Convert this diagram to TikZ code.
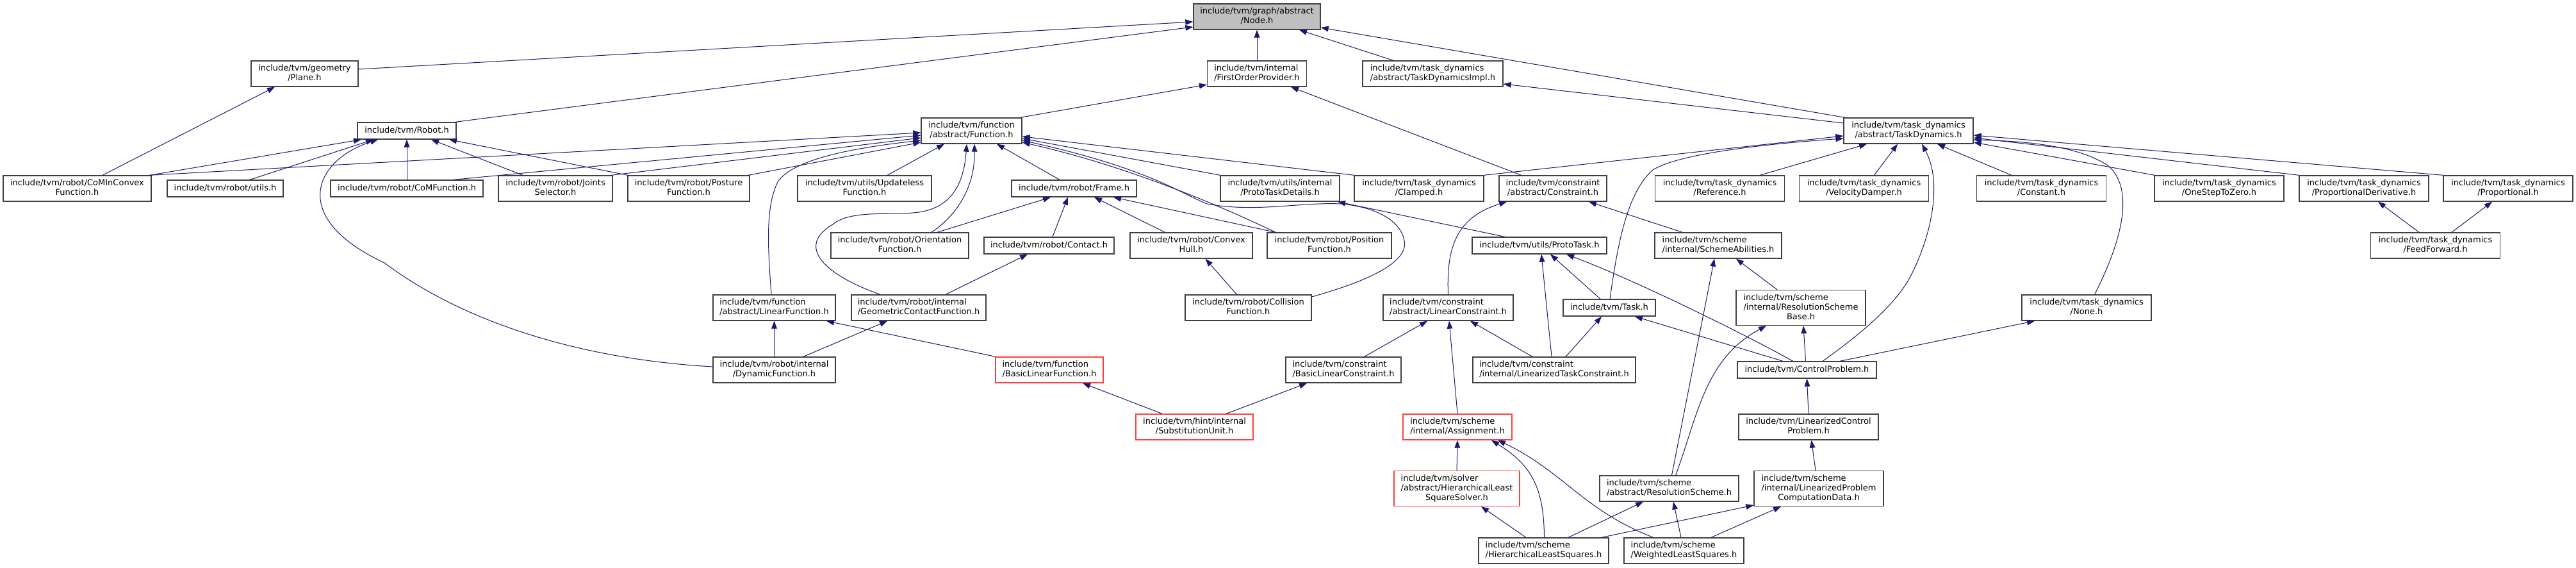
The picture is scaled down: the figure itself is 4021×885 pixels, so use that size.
\documentclass[tikz,border=0pt]{standalone}
\usepackage{fontspec}
\newfontfamily\dvs{DejaVu Sans}
\usetikzlibrary{arrows.meta,calc}
\definecolor{edgec}{HTML}{191970}
\definecolor{boxc}{HTML}{404040}
\definecolor{redc}{HTML}{FF4040}
\definecolor{graybg}{HTML}{BFBFBF}
\newcommand\twol[2]{\begin{tabular}{@{}l@{}}#1\\\multicolumn{1}{@{}c@{}}{#2}\end{tabular}}
\newcommand\threel[3]{\begin{tabular}{@{}l@{}}#1\\#2\\\multicolumn{1}{@{}c@{}}{#3}\end{tabular}}
\newcommand\onel[1]{\begin{tabular}{@{}c@{}}#1\end{tabular}}
\tikzset{
 nbox/.style={draw=boxc, line width=1pt, fill=white, rectangle, inner sep=0pt, minimum height=30pt, font=\dvs\fontsize{9.75}{11.25}\selectfont},
 rbox/.style={nbox, draw=redc},
 bw/.style={minimum width=#1*0.75pt},
 oneline/.style={minimum height=19.5pt},
 threeline/.style={minimum height=41.25pt},
 dep/.style={draw=edgec, line width=0.75pt, -{Triangle[length=9pt,width=6.5pt]}},
}
\begin{document}
\begin{tikzpicture}[x=0.75pt,y=-0.75pt]
\fill[white] (0,0) rectangle (4021,885);
\useasboundingbox (0,0) rectangle (4021,885);
% row 0
\node[nbox,bw=198,fill=graybg] (nodeh) at (1962,26) {\twol{include/tvm/graph/abstract}{/Node.h}};
% row 1
\node[nbox,bw=167] (plane) at (475.5,115) {\twol{include/tvm/geometry}{/Plane.h}};
\node[nbox,bw=155] (fop) at (1962,115) {\twol{include/tvm/internal}{/FirstOrderProvider.h}};
\node[nbox,bw=219] (tdimpl) at (2236.5,115) {\twol{include/tvm/task\_dynamics}{/abstract/TaskDynamicsImpl.h}};
% row 2
\node[nbox,oneline,bw=154] (robot) at (635,204) {\onel{include/tvm/Robot.h}};
\node[nbox,bw=157] (function) at (1516.5,204) {\twol{include/tvm/function}{/abstract/Function.h}};
\node[nbox,bw=202] (taskdyn) at (2979,204) {\twol{include/tvm/task\_dynamics}{/abstract/TaskDynamics.h}};
% row 3
\node[nbox,bw=231] (cominconvex) at (120.5,294) {\twol{include/tvm/robot/CoMInConvex}{Function.h}};
\node[nbox,oneline,bw=181] (rutils) at (351.5,294) {\onel{include/tvm/robot/utils.h}};
\node[nbox,oneline,bw=238] (comfunc) at (635,294) {\onel{include/tvm/robot/CoMFunction.h}};
\node[nbox,bw=178] (joints) at (867,294) {\twol{include/tvm/robot/Joints}{Selector.h}};
\node[nbox,bw=190] (posture) at (1075,294) {\twol{include/tvm/robot/Posture}{Function.h}};
\node[nbox,bw=209] (updateless) at (1349.5,294) {\twol{include/tvm/utils/Updateless}{Function.h}};
\node[nbox,oneline,bw=195] (frame) at (1676.5,294) {\onel{include/tvm/robot/Frame.h}};
\node[nbox,bw=186] (ptdetails) at (1998,294) {\twol{include/tvm/utils/internal}{/ProtoTaskDetails.h}};
\node[nbox,bw=202] (clamped) at (2215,294) {\twol{include/tvm/task\_dynamics}{/Clamped.h}};
\node[nbox,bw=168] (constraint) at (2424,294) {\twol{include/tvm/constraint}{/abstract/Constraint.h}};
\node[nbox,bw=202] (reference) at (2684.5,294) {\twol{include/tvm/task\_dynamics}{/Reference.h}};
\node[nbox,bw=202] (veldamper) at (2909.5,294) {\twol{include/tvm/task\_dynamics}{/VelocityDamper.h}};
\node[nbox,bw=202] (constant) at (3186.5,294) {\twol{include/tvm/task\_dynamics}{/Constant.h}};
\node[nbox,bw=202] (onestep) at (3464,294) {\twol{include/tvm/task\_dynamics}{/OneStepToZero.h}};
\node[nbox,bw=202] (pd) at (3690,294) {\twol{include/tvm/task\_dynamics}{/ProportionalDerivative.h}};
\node[nbox,bw=202] (prop) at (3915,294) {\twol{include/tvm/task\_dynamics}{/Proportional.h}};
% row 4
\node[nbox,bw=215] (orientation) at (1404.5,383) {\twol{include/tvm/robot/Orientation}{Function.h}};
\node[nbox,oneline,bw=203] (contact) at (1637.5,383) {\onel{include/tvm/robot/Contact.h}};
\node[nbox,bw=191] (convexhull) at (1859.5,383) {\twol{include/tvm/robot/Convex}{Hull.h}};
\node[nbox,bw=194] (position) at (2075,383) {\twol{include/tvm/robot/Position}{Function.h}};
\node[nbox,oneline,bw=210] (prototask) at (2403,383) {\onel{include/tvm/utils/ProtoTask.h}};
\node[nbox,bw=198] (schemeab) at (2682,383) {\twol{include/tvm/scheme}{/internal/SchemeAbilities.h}};
\node[nbox,bw=202] (feedforward) at (3801.5,383) {\twol{include/tvm/task\_dynamics}{/FeedForward.h}};
% row 5
\node[nbox,bw=191] (linfunc) at (1208.5,480) {\twol{include/tvm/function}{/abstract/LinearFunction.h}};
\node[nbox,bw=210] (gcf) at (1434,480) {\twol{include/tvm/robot/internal}{/GeometricContactFunction.h}};
\node[nbox,bw=197] (collision) at (1948.5,480) {\twol{include/tvm/robot/Collision}{Function.h}};
\node[nbox,bw=203] (linconstraint) at (2260.5,480) {\twol{include/tvm/constraint}{/abstract/LinearConstraint.h}};
\node[nbox,oneline,bw=144] (task) at (2512,480) {\onel{include/tvm/Task.h}};
\node[nbox,threeline,bw=202] (rsbase) at (2811,480) {\threel{include/tvm/scheme}{/internal/ResolutionScheme}{Base.h}};
\node[nbox,bw=202] (none) at (3257,480) {\twol{include/tvm/task\_dynamics}{/None.h}};
% row 6
\node[nbox,bw=191] (dynfunc) at (1208.5,577) {\twol{include/tvm/robot/internal}{/DynamicFunction.h}};
\node[rbox,bw=168] (basiclinfunc) at (1638,577) {\twol{include/tvm/function}{/BasicLinearFunction.h}};
\node[nbox,bw=180] (basiclincons) at (2097,577) {\twol{include/tvm/constraint}{/BasicLinearConstraint.h}};
\node[nbox,bw=254] (ltc) at (2426,577) {\twol{include/tvm/constraint}{/internal/LinearizedTaskConstraint.h}};
\node[nbox,oneline,bw=217] (controlpb) at (2820.5,577) {\onel{include/tvm/ControlProblem.h}};
% row 7
\node[rbox,bw=183] (subst) at (1864.5,666) {\twol{include/tvm/hint/internal}{/SubstitutionUnit.h}};
\node[rbox,bw=170] (assignment) at (2275,666) {\twol{include/tvm/scheme}{/internal/Assignment.h}};
\node[nbox,bw=218] (lcp) at (2823,666) {\twol{include/tvm/LinearizedControl}{Problem.h}};
% row 8
\node[rbox,threeline,bw=196] (hlssolver) at (2274,762) {\threel{include/tvm/solver}{/abstract/HierarchicalLeast}{SquareSolver.h}};
\node[nbox,bw=217] (resscheme) at (2605.5,762) {\twol{include/tvm/scheme}{/abstract/ResolutionScheme.h}};
\node[nbox,threeline,bw=202] (lpcd) at (2839,762) {\threel{include/tvm/scheme}{/internal/LinearizedProblem}{ComputationData.h}};
% row 9
\node[nbox,bw=203] (hls) at (2409.5,859) {\twol{include/tvm/scheme}{/HierarchicalLeastSquares.h}};
\node[nbox,bw=187] (wls) at (2628.5,859) {\twol{include/tvm/scheme}{/WeightedLeastSquares.h}};
% edges into Node.h
\draw[dep] ($(plane.east)+(0,-7)$) -- ($(nodeh.west)+(0,8)$);
\draw[dep] ($(robot.north east)+(-2,0)$) -- ($(nodeh.west)+(0,16)$);
\draw[dep] (fop.north) -- (nodeh.south);
\draw[dep] ($(tdimpl.north)+(-61.5,0)$) -- ($(nodeh.south)+(66,0)$);
\draw[dep] ($(taskdyn.north)+(-99,0)$) -- ($(nodeh.east)+(0,17)$);
% row 1 targets
\draw[dep] ($(cominconvex.north)+(39.5,0)$) -- ($(plane.south)+(-46.5,0)$);
\draw[dep] ($(function.north)+(76,0)$) -- ($(fop.west)+(0,17)$);
\draw[dep] ($(constraint.north)+(-49.4,0)$) -- ($(fop.south)+(53,0)$);
\draw[dep] ($(taskdyn.west)+(0,-12)$) -- ($(tdimpl.east)+(0,16)$);
% Robot.h
\draw[dep] ($(cominconvex.north)+(113,0)$) -- ($(robot.south)+(-71,0)$);
\draw[dep] ($(rutils.north)+(38.5,0)$) -- ($(robot.south)+(-52,0)$);
\draw[dep] ($(dynfunc.west)+(0,-5)$) .. controls (900,560) and (720,500) .. (600,410) .. controls (450,340) and (490,250) .. ($(robot.south)+(-45,0)$);
\draw[dep] (comfunc.north) -- (robot.south);
\draw[dep] ($(joints.north)+(-51,0)$) -- ($(robot.south)+(38,0)$);
\draw[dep] ($(posture.north)+(-95,0)$) -- ($(robot.south)+(66,0)$);
% Function.h
\draw[dep] ($(cominconvex.north)+(113,0)$) -- ($(function.west)+(0,3)$);
\draw[dep] ($(comfunc.north)+(72.7,0)$) -- ($(function.west)+(0,7)$);
\draw[dep] ($(joints.north)+(87,0)$) -- ($(function.west)+(0,11)$);
\draw[dep] ($(posture.north)+(93,0)$) -- ($(function.west)+(0,18)$);
\draw[dep] ($(updateless.north)+(35.5,0)$) -- ($(function.south)+(-42.5,0)$);
\draw[dep] ($(linfunc.north)+(-4.5,0)$) .. controls (1198,380) and (1195,320) .. (1215,282) .. controls (1240,250) and (1320,232) .. ($(function.west)+(0,15)$);
\draw[dep] ($(gcf.north)+(-60,0)$) .. controls (1290,430) and (1240,385) .. (1300,350) .. controls (1330,325) and (1400,338) .. (1440,330) .. controls (1490,320) and (1505,280) .. ($(function.south)+(-7.5,0)$);
\draw[dep] ($(orientation.north)+(49.5,0)$) .. controls (1495,335) and (1522,290) .. ($(function.south)+(4.5,0)$);
\draw[dep] ($(frame.north)+(-22.5,0)$) -- ($(function.south)+(39.5,0)$);
\draw[dep] ($(ptdetails.north)+(-93,0)$) -- ($(function.east)+(0,12)$);
\draw[dep] ($(position.north)+(-84,0)$) .. controls (1850,295) and (1720,250) .. ($(function.east)+(0,18)$);
\draw[dep] ($(collision.east)+(0,-17)$) .. controls (2130,440) and (2200,410) .. (2192,375) .. controls (2185,340) and (2140,322) .. (2093,318) .. controls (2030,315) and (1960,332) .. (1884,318) .. controls (1840,300) and (1790,262) .. ($(function.east)+(0,15)$);
\draw[dep] ($(clamped.north)+(-101,0)$) -- ($(function.east)+(0,9)$);
% Frame.h and row 4 robot nodes
\draw[dep] ($(orientation.north)+(58.5,0)$) -- ($(frame.south)+(-36.5,0)$);
\draw[dep] ($(contact.north)+(5.5,0)$) -- ($(frame.south)+(-9.5,0)$);
\draw[dep] ($(convexhull.north)+(-41,0)$) -- ($(frame.south)+(31.5,0)$);
\draw[dep] ($(position.north)+(-84,0)$) -- ($(frame.south)+(61.5,0)$);
\draw[dep] ($(gcf.north)+(42,0)$) -- ($(contact.south)+(-33.5,0)$);
\draw[dep] ($(collision.north)+(-18,0)$) -- ($(convexhull.south)+(22,0)$);
\draw[dep] ($(prototask.north)+(-54.4,0)$) -- ($(ptdetails.south)+(90,0)$);
% TaskDynamics.h
\draw[dep] ($(clamped.north)+(101,0)$) -- ($(taskdyn.west)+(0,8)$);
\draw[dep] ($(task.north)+(1,0)$) .. controls (2525,380) and (2540,300) .. (2580,265) .. controls (2620,240) and (2750,225) .. ($(taskdyn.west)+(0,12)$);
\draw[dep] ($(reference.north)+(62.5,0)$) -- ($(taskdyn.south)+(-65,0)$);
\draw[dep] ($(veldamper.north)+(16,0)$) -- ($(taskdyn.south)+(-17,0)$);
\draw[dep] ($(controlpb.north)+(24.5,0)$) .. controls (2920,510) and (2960,470) .. (2980,435) .. controls (3010,380) and (3035,290) .. ($(taskdyn.south)+(21,0)$);
\draw[dep] ($(constant.north)+(-46.5,0)$) -- ($(taskdyn.south)+(45,0)$);
\draw[dep] ($(onestep.north)+(-100.6,0)$) -- ($(taskdyn.east)+(0,18)$);
\draw[dep] ($(pd.north)+(-101,0)$) -- ($(taskdyn.east)+(0,11)$);
\draw[dep] ($(prop.north)+(-101,0)$) -- ($(taskdyn.east)+(0,7)$);
\draw[dep] ($(none.north)+(12.5,0)$) .. controls (3300,400) and (3340,300) .. (3290,258) .. controls (3240,225) and (3150,220) .. ($(taskdyn.east)+(0,14)$);
\draw[dep] ($(feedforward.north)+(-25.5,0)$) -- ($(pd.south)+(22,0)$);
\draw[dep] ($(feedforward.north)+(25.5,0)$) -- ($(prop.south)+(-25,0)$);
% Constraint.h, ProtoTask.h
\draw[dep] (linconstraint.north) .. controls (2258,390) and (2270,340) .. ($(constraint.south)+(-72,0)$);
\draw[dep] ($(schemeab.north)+(-56,0)$) -- ($(constraint.south)+(56,0)$);
\draw[dep] ($(ltc.north)+(-4,0)$) -- ($(prototask.south)+(3,0)$);
\draw[dep] ($(task.north)+(-14,0)$) -- ($(prototask.south)+(17,0)$);
\draw[dep] ($(controlpb.north)+(-22,0)$) .. controls (2740,530) and (2560,440) .. ($(prototask.south)+(42,0)$);
% row 5 targets
\draw[dep] (dynfunc.north) -- (linfunc.south);
\draw[dep] ($(basiclinfunc.north)+(-84,0)$) -- ($(linfunc.south)+(81.5,0)$);
\draw[dep] ($(dynfunc.north)+(45.5,0)$) -- ($(gcf.south)+(-49,0)$);
\draw[dep] ($(basiclincons.north)+(32.6,0)$) -- ($(linconstraint.south)+(-32.5,0)$);
\draw[dep] (assignment.north) -- ($(linconstraint.south)+(1.5,0)$);
\draw[dep] ($(ltc.north)+(-34,0)$) -- ($(linconstraint.south)+(34.5,0)$);
\draw[dep] ($(ltc.north)+(18,0)$) -- ($(task.south)+(-12,0)$);
\draw[dep] ($(controlpb.north)+(-37.5,0)$) -- ($(task.south)+(40,0)$);
\draw[dep] ($(resscheme.north)+(4,0)$) -- ($(schemeab.south)+(-6,0)$);
\draw[dep] ($(rsbase.north)+(-37,0)$) -- ($(schemeab.south)+(28,0)$);
\draw[dep] ($(resscheme.north)+(10,0)$) .. controls (2650,650) and (2660,560) .. ($(rsbase.south)+(-54,0)$);
\draw[dep] ($(controlpb.north)+(-2,0)$) -- ($(rsbase.south)+(4,0)$);
\draw[dep] ($(controlpb.north)+(51.5,0)$) -- ($(none.south)+(-81,0)$);
% lower rows
\draw[dep] ($(subst.north)+(-50.5,0)$) -- ($(basiclinfunc.south)+(52,0)$);
\draw[dep] ($(subst.north)+(49.5,0)$) -- ($(basiclincons.south)+(-57,0)$);
\draw[dep] (lcp.north) -- (controlpb.south);
\draw[dep] (hlssolver.north) -- (assignment.south);
\draw[dep] ($(hls.north)+(1,0)$) .. controls (2410,760) and (2390,725) .. ($(assignment.south)+(53,0)$);
\draw[dep] ($(wls.north)+(-48,0)$) .. controls (2470,795) and (2440,735) .. ($(assignment.south)+(63,0)$);
\draw[dep] ($(lpcd.north)+(-5,0)$) -- ($(lcp.south)+(4.5,0)$);
\draw[dep] ($(hls.north)+(-27.5,0)$) -- ($(hlssolver.south)+(38,0)$);
\draw[dep] ($(hls.north)+(38.5,0)$) -- ($(resscheme.south)+(-40.5,0)$);
\draw[dep] ($(wls.north)+(-4.5,0)$) -- ($(resscheme.south)+(6.5,0)$);
\draw[dep] ($(hls.north)+(90.5,0)$) -- ($(lpcd.west)+(0,26)$);
\draw[dep] ($(wls.north)+(42.5,0)$) -- ($(lpcd.south)+(-59,0)$);
\end{tikzpicture}
\end{document}
